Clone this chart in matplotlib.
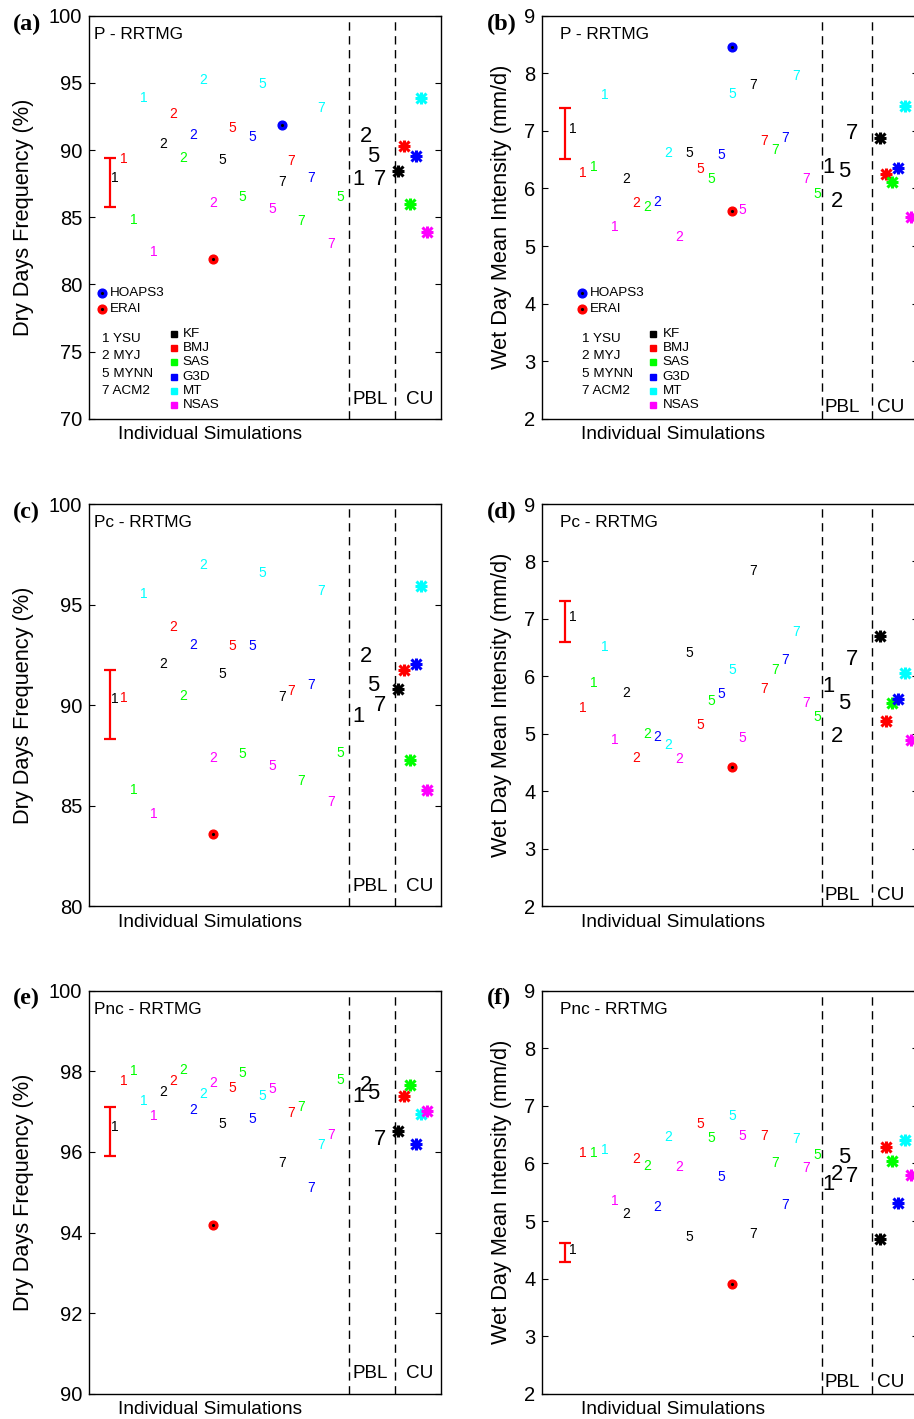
"""
Dry-day frequency / wet-day intensity for the WRF physics ensemble (P, Pc, Pnc).
Individual runs are written as PBL digits coloured by CU scheme.
"""
import matplotlib
matplotlib.use("Agg")
import matplotlib.pyplot as plt

plt.rcParams["font.family"] = ["Liberation Sans", "DejaVu Sans"]

# ---- schemes ----
cu_names = ["KF", "BMJ", "SAS", "G3D", "MT", "NSAS"]
cu_colors = ["#000000", "#ff0000", "#00ff00", "#0000ff", "#00ffff", "#ff00ff"]
pbl_ids = ["1", "2", "5", "7"]
pbl_names = ["YSU", "MYJ", "MYNN", "ACM2"]

# individual runs (no G3D-YSU, an extra SAS-MYNN at the end)
sim_pbl = ["1"] * 5 + ["2"] * 6 + ["5"] * 6 + ["7"] * 6 + ["5"]
sim_cu = [0, 1, 2, 4, 5] + [0, 1, 2, 3, 4, 5] * 3 + [2]

# ---- dry days frequency (%) ----
dry_p = [87.89, 89.31, 84.79, 93.85, 82.38, 90.42, 92.66, 89.40, 91.12, 95.24, 86.05, 89.26,
         91.66, 86.48, 90.97, 94.91, 85.58, 87.64, 89.16, 84.69, 87.89, 93.13, 83.03, 86.48]
dry_pc = [90.29, 90.37, 85.78, 95.51, 84.59, 92.06, 93.89, 90.44, 92.97, 96.95, 87.37, 91.55,
          92.92, 87.56, 92.96, 96.59, 86.98, 90.41, 90.69, 86.25, 91.02, 95.66, 85.17, 87.61]
dry_pnc = [96.63, 97.76, 98.01, 97.26, 96.90, 97.48, 97.76, 98.04, 97.05, 97.44, 97.72, 96.69,
           97.59, 97.95, 96.82, 97.40, 97.55, 95.72, 96.96, 97.11, 95.10, 96.17, 96.41, 97.78]
# ---- wet day mean intensity (mm/d) ----
wet_p = [7.04, 6.26, 6.38, 7.62, 5.33, 6.17, 5.74, 5.68, 5.77, 6.62, 5.16, 6.62,
         6.34, 6.17, 6.58, 7.64, 5.63, 7.80, 6.82, 6.66, 6.88, 7.95, 6.16, 5.90]
wet_pc = [7.04, 5.45, 5.89, 6.52, 4.89, 5.72, 4.58, 4.99, 4.94, 4.81, 4.56, 6.40,
          5.15, 5.58, 5.69, 6.11, 4.93, 7.83, 5.79, 6.11, 6.29, 6.77, 5.53, 5.29]
wet_pnc = [4.50, 6.19, 6.19, 6.24, 5.34, 5.13, 6.07, 5.96, 5.24, 6.46, 5.94, 4.73,
           6.69, 6.44, 5.76, 6.82, 6.48, 4.78, 6.47, 6.00, 5.27, 6.43, 5.92, 6.14]

# PBL means (1, 2, 5, 7)
pbl_dry_p = [87.8, 91.0, 89.5, 87.8]
pbl_dry_pc = [89.43, 92.41, 91.0, 89.96]
pbl_dry_pnc = [97.37, 97.66, 97.44, 96.31]
pbl_wet_p = [6.36, 5.78, 6.30, 6.96]
pbl_wet_pc = [5.83, 4.96, 5.53, 6.30]
pbl_wet_pnc = [5.63, 5.81, 6.11, 5.78]

# CU means (KF, BMJ, SAS, G3D, MT, NSAS)
cu_dry_p = [88.44, 90.32, 85.96, 89.58, 93.90, 83.87]
cu_dry_pc = [90.82, 91.73, 87.27, 92.06, 95.92, 85.77]
cu_dry_pnc = [96.52, 97.39, 97.66, 96.19, 96.93, 97.01]
cu_wet_p = [6.88, 6.25, 6.11, 6.36, 7.43, 5.50]
cu_wet_pc = [6.71, 5.23, 5.53, 5.60, 6.06, 4.90]
cu_wet_pnc = [4.68, 6.28, 6.05, 5.31, 6.40, 5.80]

# observations / KF-YSU spread (P, Pc, Pnc)
erai_dry = [81.86, 83.61, 94.19]
erai_wet = [5.61, 4.43, 3.91]
hoaps_dry = 91.89
hoaps_wet = 8.46
spread_dry_lo = [85.73, 88.30, 95.91]
spread_dry_hi = [89.40, 91.75, 97.11]
spread_wet_lo = [6.51, 6.60, 4.29]
spread_wet_hi = [7.39, 7.31, 4.61]

titles = ["P - RRTMG", "Pc - RRTMG", "Pnc - RRTMG"]

# ---- layout per column ----
LAYOUT = [
    dict(left=0.0974, width=0.3851, xmax=36.0, x0=2.59, dx=1.007, obs_slot=(10, 17),
         pbl_x=[27.6, 28.33, 29.08, 29.77], cu_x0=31.65, cu_dx=0.585,
         lab_pbl=26.97, lab_cu=32.42, lab_y=0.049, title_x=0.015, ylab_x=-0.156,
         leg_dot=0.038, leg_sq=0.242, plabel_x=0.0142),
    dict(left=0.5933, width=0.4108, xmax=35.66, x0=2.88, dx=1.01, obs_slot=(15, 15),
         pbl_x=[27.19, 27.98, 28.68, 29.4], cu_x0=32.03, cu_dx=0.6,
         lab_pbl=26.77, lab_cu=31.78, lab_y=0.027, title_x=0.047, ylab_x=-0.081,
         leg_dot=0.106, leg_sq=0.296, plabel_x=0.5325),
]
ROWS = [(0.7049, 0.2840, 0.9831), (0.3613, 0.2835, 0.6392), (0.0178, 0.2840, 0.2967)]
ERR_X = 2.15
PBL_LINE, CU_LINE = 26.6, 31.33


def obs_dot(ax, x, y, color, **kw):
    ax.plot(x, y, "o", color=color, mec=color, ms=6.3, zorder=4, **kw)
    ax.plot(x, y, ".", color="k", ms=2.5, zorder=5, **kw)


def cu_star(ax, x, y, color, size=8.0, **kw):
    # MATLAB-like '*' : a '+' laid over an 'x'
    ax.plot(x, y, marker="+", color=color, ms=size * 1.1, mew=2.2, zorder=4, **kw)
    ax.plot(x, y, marker="x", color=color, ms=size * 0.85, mew=2.2, zorder=4, **kw)


def draw(ax, col, row, sims, pbl, cu, lo, hi, erai, hoaps, ylim, yticks, ylabel):
    L = LAYOUT[col]
    ax.set_xlim(0, L["xmax"])
    ax.set_ylim(*ylim)
    ax.set_yticks(yticks)
    ax.set_xticks([])
    ax.tick_params(axis="y", direction="in", right=True, length=4.5, width=0.8,
                   labelsize=14.5, pad=5)
    for s in ax.spines.values():
        s.set_linewidth(1.0)

    for xl in (PBL_LINE, CU_LINE):
        ax.axvline(xl, color="k", lw=1.0, dashes=(6, 4))

    # spread of the KF-YSU run
    mid = (lo + hi) / 2.0
    ax.errorbar([ERR_X], [mid], yerr=[[mid - lo], [hi - mid]], color="#ff0000",
                lw=1.6, capsize=4, capthick=1.6, zorder=3)

    for k, (lab, c, v) in enumerate(zip(sim_pbl, sim_cu, sims)):
        ax.text(L["x0"] + k * L["dx"], v, lab, color=cu_colors[c], fontsize=10,
                ha="center", va="center")

    for xp, lab, v in zip(L["pbl_x"], pbl_ids, pbl):
        ax.text(xp, v, lab, color="k", fontsize=15.8, ha="center", va="center")

    for j, v in enumerate(cu):
        cu_star(ax, L["cu_x0"] + j * L["cu_dx"], v, cu_colors[j])

    obs_dot(ax, L["x0"] + L["obs_slot"][0] * L["dx"], erai, "#ff0000")
    if hoaps is not None:
        obs_dot(ax, L["x0"] + L["obs_slot"][1] * L["dx"], hoaps, "#0000ff")

    ax.text(L["title_x"], 0.954, titles[row], transform=ax.transAxes, fontsize=12.4,
            ha="left", va="center")
    ax.text(L["lab_pbl"], L["lab_y"], "PBL", transform=ax.get_xaxis_transform(),
            fontsize=13.6, ha="left", va="center")
    ax.text(L["lab_cu"], L["lab_y"], "CU", transform=ax.get_xaxis_transform(),
            fontsize=13.6, ha="left", va="center")
    ax.text(12.4, -0.04, "Individual Simulations", transform=ax.get_xaxis_transform(),
            fontsize=13.8, ha="center", va="center")
    ax.set_ylabel(ylabel, fontsize=15.7)
    ax.yaxis.set_label_coords(L["ylab_x"], 0.5)

    if row == 0:
        tr = ax.transAxes
        for yy, name, colr in ((0.311, "HOAPS3", "#0000ff"), (0.272, "ERAI", "#ff0000")):
            obs_dot(ax, L["leg_dot"], yy, colr, transform=tr)
            ax.text(L["leg_dot"] + 0.02, yy, name, transform=tr, fontsize=9.7,
                    ha="left", va="center")
        for i, (pid, pname) in enumerate(zip(pbl_ids, pbl_names)):
            ax.text(L["leg_dot"], 0.199 - i * 0.0435, f"{pid} {pname}", transform=tr,
                    fontsize=9.7, ha="left", va="center")
        for j, (cname, colr) in enumerate(zip(cu_names, cu_colors)):
            yy = 0.211 - j * 0.0356
            ax.plot(L["leg_sq"], yy, "s", color=colr, ms=4, transform=tr)
            ax.text(L["leg_sq"] + 0.024, yy, cname, transform=tr, fontsize=9.7,
                    ha="left", va="center")


fig = plt.figure(figsize=(9.14, 14.19), dpi=100)

dry_sets = [(dry_p, pbl_dry_p, cu_dry_p), (dry_pc, pbl_dry_pc, cu_dry_pc),
            (dry_pnc, pbl_dry_pnc, cu_dry_pnc)]
wet_sets = [(wet_p, pbl_wet_p, cu_wet_p), (wet_pc, pbl_wet_pc, cu_wet_pc),
            (wet_pnc, pbl_wet_pnc, cu_wet_pnc)]
dry_lims = [((70, 100), range(70, 101, 5)), ((80, 100), range(80, 101, 5)),
            ((90, 100), range(90, 101, 2))]
letters = "abcdef"

for row, (bottom, height, ylab_fig) in enumerate(ROWS):
    for col in range(2):
        L = LAYOUT[col]
        ax = fig.add_axes([L["left"], bottom, L["width"], height])
        if col == 0:
            sims, pbl, cu = dry_sets[row]
            draw(ax, col, row, sims, pbl, cu, spread_dry_lo[row], spread_dry_hi[row],
                 erai_dry[row], hoaps_dry if row == 0 else None,
                 dry_lims[row][0], list(dry_lims[row][1]), "Dry Days Frequency (%)")
        else:
            sims, pbl, cu = wet_sets[row]
            draw(ax, col, row, sims, pbl, cu, spread_wet_lo[row], spread_wet_hi[row],
                 erai_wet[row], hoaps_wet if row == 0 else None,
                 (2, 9), list(range(2, 10)), "Wet Day Mean Intensity (mm/d)")
        fig.text(L["plabel_x"], ylab_fig, f"({letters[row * 2 + col]})",
                 family=["Liberation Serif", "DejaVu Serif"], weight="bold",
                 fontsize=17.5, ha="left", va="center")

fig.savefig("out.png", dpi=100)
